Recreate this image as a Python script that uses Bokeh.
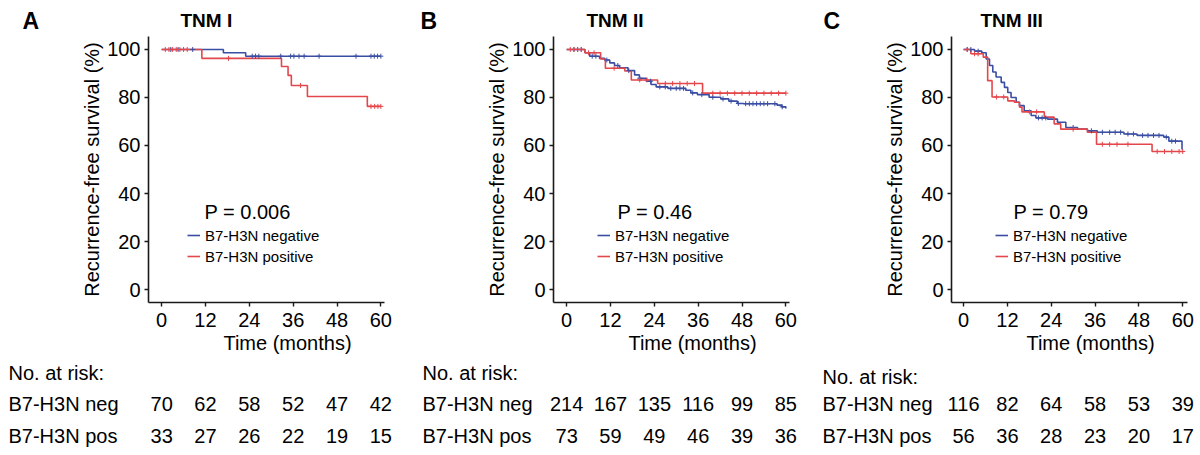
import numpy as np
from bokeh.plotting import figure
from bokeh.layouts import row, column
from bokeh.models import (Label, Legend, LegendItem, FixedTicker, Range1d, LinearAxis, Plot)
from bokeh.core.properties import value
from bokeh.embed import file_html
from bokeh.resources import INLINE

FONT = "Liberation Sans"
BLUE = "#3a4ea3"
RED = "#e4474b"

month_ticks = [0, 12, 24, 36, 48, 60]
surv_ticks = [0, 20, 40, 60, 80, 100]

# ---------------- Panel A : TNM I ----------------
a_neg_t = [0, 16.9, 23.0, 60]
a_neg_s = [100, 98.6, 97.2, 97.2]
a_pos_t = [0, 11.0, 32.8, 34.6, 35.5, 39.9, 56.3, 60]
a_pos_s = [100, 96.3, 92.9, 89.2, 85.0, 80.4, 76.3, 76.3]
a_neg_cens = [2.5, 4.5, 8.5, 24.8, 25.7, 26.6, 32.6, 35.3, 36.2, 37.6, 39.0, 43.1, 53.2, 57.3, 58.2, 59.1, 60]
a_pos_cens = [1, 2, 3, 4, 5, 6, 7, 18.3, 38.0, 57.3, 58.3, 59.2, 60]
a_risk_neg = [70, 62, 58, 52, 47, 42]
a_risk_pos = [33, 27, 26, 22, 19, 15]

# ---------------- Panel B : TNM II ----------------
b_neg_t = [0, 5.0, 6.3, 9.0, 10.4, 11.8, 13.1, 14.5, 16.8, 18.6, 19.9, 21.8, 23.1, 24.5, 27.7,
           32.6, 34.0, 35.8, 39.0, 42.2, 44.4, 46.7, 48.5, 57.6, 58.9, 60]
b_neg_s = [100, 98.6, 97.2, 96.3, 95.6, 94.4, 93.3, 92.4, 91.2, 89.4, 88.0, 86.8, 85.4, 84.4, 83.8,
           83.0, 81.9, 81.2, 80.1, 79.4, 78.5, 77.5, 77.4, 76.8, 76.1, 75.4]
b_pos_t = [0, 5.0, 9.3, 10.6, 15.9, 17.7, 24.9, 37.2, 60]
b_pos_s = [100, 98.6, 96.0, 92.2, 91.0, 87.3, 85.8, 81.8, 81.8]
b_neg_cens = [2, 3, 4, 7, 8, 11, 14, 17, 20, 23, 25.5, 27, 28.5, 30, 31, 32, 34.5, 37, 40, 42.8,
              45, 47, 49, 50, 51, 52, 53, 54, 55, 57, 59]
b_pos_cens = [1, 2, 3, 4, 6, 7.5, 13, 20, 22, 27, 29, 31, 33, 35, 40, 42, 44, 46, 48, 50, 52, 54,
              56, 58, 60]
b_risk_neg = [214, 167, 135, 116, 99, 85]
b_risk_pos = [73, 59, 49, 46, 39, 36]

# ---------------- Panel C : TNM III ----------------
c_neg_t = [0, 3.0, 5.0, 6.2, 7.1, 8.0, 8.9, 10.3, 11.2, 12.1, 13.0, 14.4, 15.3, 16.6, 18.5, 19.8,
           23.0, 25.7, 28.0, 31.2, 33.9, 36.6, 43.9, 47.5, 54.8, 56.2, 59.8, 60]
c_neg_s = [100, 99.3, 98.6, 96.0, 93.3, 90.6, 88.5, 86.3, 84.2, 82.1, 80.0, 78.0, 76.6, 74.5, 72.5, 71.5,
           71.0, 69.7, 67.5, 66.8, 66.1, 65.5, 64.8, 64.2, 63.5, 61.8, 58.5, 58.5]
c_pos_t = [0, 2.0, 5.4, 6.6, 7.8, 12.1, 13.9, 15.3, 16.0, 22.1, 24.8, 26.6, 33.9, 36.4, 51.6, 60]
c_pos_s = [100, 98.2, 96.8, 87.0, 80.2, 78.6, 78.0, 76.0, 74.0, 71.8, 69.0, 66.8, 65.5, 60.5, 57.5, 57.5]
c_neg_cens = [1, 2, 4, 20.5, 21.5, 22.5, 30, 35, 38, 40, 41.5, 43, 45, 46.5, 49, 50.5, 52, 53.5,
              55.5, 57, 58]
c_pos_cens = [1, 3, 4, 9, 11, 18, 20, 30, 38, 40, 42, 45, 53, 55, 57, 59, 60]
c_risk_neg = [116, 82, 64, 58, 53, 39]
c_risk_pos = [56, 36, 28, 23, 20, 17]

neg_label = "B7-H3N negative"
pos_label = "B7-H3N positive"
x_label = "Time (months)"
y_label = "Recurrence-free survival (%)"
risk_title = "No. at risk:"
row_neg = "B7-H3N neg"
row_pos = "B7-H3N pos"

FW, FH = 236, 266          # frame size of each survival plot
TOP_H = 36                 # strip holding panel letter + title
KM_BB = 54                 # bottom border of survival plot (tick labels + x label)
BOT_H = 97                 # number-at-risk table strip

HAS_FA = "frame_align" in Plot.properties()


def km_at(ts, ss, t):
    idx = np.searchsorted(np.asarray(ts), np.asarray(t, dtype=float), side="right") - 1
    return np.asarray(ss)[idx]


def blank(width, height, xr, yr):
    kw = dict(frame_align=False) if HAS_FA else {}
    f = figure(frame_width=width, frame_height=height, output_backend="svg",
               toolbar_location=None, x_axis_location=None, y_axis_location=None,
               min_border=0, x_range=xr, y_range=yr, **kw)
    f.grid.visible = False
    f.outline_line_color = None
    f.background_fill_color = "white"
    f.border_fill_color = "white"
    return f


def style_axis(ax):
    ax.axis_line_color = "#1a1a1a"
    ax.axis_line_width = 1.6
    ax.major_tick_line_color = "#1a1a1a"
    ax.major_tick_line_width = 1.4
    ax.major_tick_in = 0
    ax.major_tick_out = 4
    ax.minor_tick_in = 0
    ax.minor_tick_out = 0
    ax.major_label_text_font = FONT
    ax.major_label_text_font_size = "20px"
    ax.major_label_text_color = "black"


def panel(letter, title, pval, neg_t, neg_s, pos_t, pos_s, neg_c, pos_c, risk_neg, risk_pos,
          width, bl, x0, title_x, letter_x, p_dx, leg_dx, row_x, risk_top):
    br = width - bl - FW
    x1 = x0 + 64.6
    mpp = (x1 - x0) / FW       # months per pixel

    # ---- top strip: panel letter and title (pixel coordinates of the panel) ----
    top = blank(width, TOP_H, Range1d(0, width), Range1d(TOP_H, 0))
    top.text(x=[letter_x], y=[20], text=[letter], text_font=value(FONT), text_font_size="23px",
             text_font_style="bold", text_baseline="middle", text_color="black")
    top.text(x=[title_x], y=[20], text=[title], text_font=value(FONT), text_font_size="19px",
             text_font_style="bold", text_baseline="middle", text_color="black")

    # ---- survival plot ----
    kw = dict(frame_align=False) if HAS_FA else {}
    p = figure(width=width, height=FH + KM_BB, output_backend="svg", toolbar_location=None,
               min_border_left=bl, min_border_right=br, min_border_top=0,
               min_border_bottom=KM_BB,
               x_range=Range1d(x0, x1), y_range=Range1d(-5.4, 105.4), **kw)
    p.grid.visible = False
    p.outline_line_color = None
    p.background_fill_color = "white"
    p.border_fill_color = "white"
    style_axis(p.xaxis[0])
    style_axis(p.yaxis[0])
    p.xaxis.ticker = FixedTicker(ticks=month_ticks)
    p.yaxis.ticker = FixedTicker(ticks=surv_ticks)
    p.xaxis.major_label_standoff = 6
    p.yaxis.major_label_standoff = 4
    p.yaxis.axis_label = y_label
    p.yaxis.axis_label_text_font = FONT
    p.yaxis.axis_label_text_font_size = "20px"
    p.yaxis.axis_label_text_font_style = "normal"
    p.yaxis.axis_label_text_color = "black"
    p.yaxis.axis_label_standoff = 1

    # x-axis title drawn as the single tick label of a second, line-less axis
    xlab_pos = round(x0 + 139 * mpp, 2)
    ax2 = LinearAxis(ticker=FixedTicker(ticks=[xlab_pos]),
                     major_label_overrides={xlab_pos: x_label})
    style_axis(ax2)
    ax2.axis_line_color = None
    ax2.major_tick_line_color = None
    ax2.major_tick_out = 0
    ax2.major_label_standoff = 2
    p.add_layout(ax2, "below")

    r_neg = p.step(neg_t, neg_s, mode="after", line_color=BLUE, line_width=1.6)
    r_pos = p.step(pos_t, pos_s, mode="after", line_color=RED, line_width=1.6)
    p.scatter(neg_c, km_at(neg_t, neg_s, neg_c), marker="cross", size=5,
              line_color=BLUE, line_width=1)
    p.scatter(pos_c, km_at(pos_t, pos_s, pos_c), marker="cross", size=5,
              line_color=RED, line_width=1)

    leg = Legend(items=[LegendItem(label=neg_label, renderers=[r_neg]),
                        LegendItem(label=pos_label, renderers=[r_pos])],
                 location=(leg_dx, 36), glyph_width=13, glyph_height=20, label_height=20,
                 label_width=10, label_standoff=5, spacing=1, padding=0, margin=0,
                 border_line_color=None, background_fill_alpha=0,
                 label_text_font=FONT, label_text_font_size="15px", label_text_color="black")
    p.add_layout(leg)
    p.add_layout(Label(x=p_dx, y=91, x_units="screen", y_units="screen", text=pval,
                       text_font=FONT, text_font_size="20px", text_color="black",
                       text_baseline="middle"))

    # ---- number-at-risk table (same month scale as the plot above) ----
    bx0 = x0 - bl * mpp
    bx1 = x1 + br * mpp
    bot = blank(width, BOT_H, Range1d(bx0, bx1), Range1d(BOT_H, 0))
    lx = bx0 + row_x * mpp
    tk = dict(text_font=value(FONT), text_font_size="20px", text_color="black",
              text_baseline="middle")
    bot.text(x=[lx], y=[risk_top], text=[risk_title], **tk)
    bot.text(x=[lx, lx], y=[47, 79], text=[row_neg, row_pos], **tk)
    bot.text(x=month_ticks, y=[47] * len(risk_neg), text=[str(v) for v in risk_neg],
             text_align="center", **tk)
    bot.text(x=month_ticks, y=[79] * len(risk_pos), text=[str(v) for v in risk_pos],
             text_align="center", **tk)

    return column(top, p, bot, spacing=0)


pa = panel("A", "TNM I", "P = 0.006", a_neg_t, a_neg_s, a_pos_t, a_pos_s, a_neg_cens, a_pos_cens,
           a_risk_neg, a_risk_pos, width=400, bl=148, x0=-3.6, title_x=180, letter_x=22,
           p_dx=56, leg_dx=39, row_x=8, risk_top=16)
pb = panel("B", "TNM II", "P = 0.46", b_neg_t, b_neg_s, b_pos_t, b_pos_s, b_neg_cens, b_pos_cens,
           b_risk_neg, b_risk_pos, width=400, bl=153, x0=-3.6, title_x=186, letter_x=20,
           p_dx=64, leg_dx=44, row_x=22, risk_top=16)
pc = panel("C", "TNM III", "P = 0.79", c_neg_t, c_neg_s, c_pos_t, c_pos_s, c_neg_cens, c_pos_cens,
           c_risk_neg, c_risk_pos, width=396, bl=151, x0=-3.3, title_x=180, letter_x=23,
           p_dx=62, leg_dx=44, row_x=22, risk_top=20)

layout = row(pa, pb, pc, spacing=0)
open("out.html", "w").write(file_html(layout, INLINE))
